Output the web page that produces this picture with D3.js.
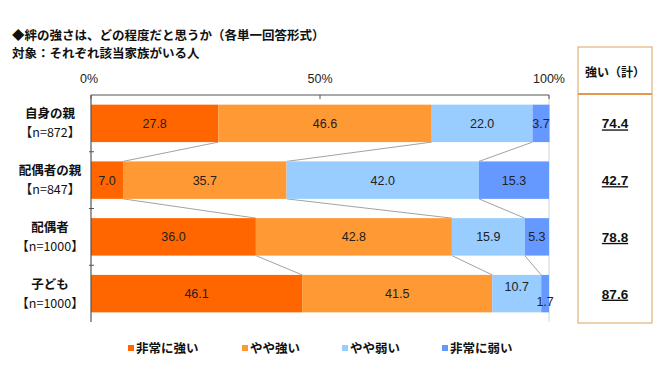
<!DOCTYPE html>
<html>
<head>
<meta charset="utf-8">
<script src="https://cdn.jsdelivr.net/npm/d3@7"></script>
<style>
  body { margin: 0; background: #fff; }
  svg { display: block; }
</style>
</head>
<body>
<svg id="chart"></svg>
<script>
// chart data
const categories = ['自身の親', '配偶者の親', '配偶者', '子ども'];
const sampleSizes = ['【n=872】', '【n=847】', '【n=1000】', '【n=1000】'];
const seriesNames = ['非常に強い', 'やや強い', 'やや弱い', '非常に弱い'];
const veryStrong = [27.8, 7.0, 36.0, 46.1];
const fairlyStrong = [46.6, 35.7, 42.8, 41.5];
const fairlyWeak = [22.0, 42.0, 15.9, 10.7];
const veryWeak = [3.7, 15.3, 5.3, 1.7];
const strongTotal = [74.4, 42.7, 78.8, 87.6];
const axisTicks = [0, 50, 100];

const colors = ['#FF6600', '#FF9933', '#99CCFF', '#6699FF'];
const jp = '"Noto Sans CJK JP", sans-serif';
const num = '"Liberation Sans", Arial, sans-serif';

const width = 669, height = 380;
const svg = d3.select('#chart').attr('width', width).attr('height', height);

const x = d3.scaleLinear().domain([0, 100]).range([91, 549]);
const y = d3.scaleBand().domain(categories).range([95, 322]).paddingInner(0.34).paddingOuter(0.17);

// title
svg.append('text').attr('x', 12).attr('y', 40)
  .attr('font-family', jp).attr('font-size', 12.5).attr('font-weight', 'bold').attr('fill', '#111')
  .text('◆絆の強さは、どの程度だと思うか（各単一回答形式）');
svg.append('text').attr('x', 12).attr('y', 58)
  .attr('font-family', jp).attr('font-size', 12.5).attr('font-weight', 'bold').attr('fill', '#111')
  .text('対象：それぞれ該当家族がいる人');

// stacked rows
const rows = categories.map((c, i) => {
  const vals = [veryStrong[i], fairlyStrong[i], fairlyWeak[i], veryWeak[i]];
  let acc = 0;
  return vals.map((v, k) => {
    const s = { cat: c, k, v, x0: acc, x1: acc + v, row: i };
    acc += v;
    return s;
  });
});

// connector lines
const conn = svg.append('g');
for (let i = 0; i < rows.length - 1; i++) {
  for (let k = 0; k < 3; k++) {
    conn.append('line')
      .attr('x1', x(rows[i][k].x1)).attr('y1', y(categories[i]) + y.bandwidth())
      .attr('x2', x(rows[i + 1][k].x1)).attr('y2', y(categories[i + 1]))
      .attr('stroke', '#8a8a8a').attr('stroke-width', 0.8);
  }
}

// 100% faint line
svg.append('line').attr('x1', x(100)).attr('x2', x(100)).attr('y1', 95).attr('y2', 322)
  .attr('stroke', '#d4d4d4').attr('stroke-width', 1);

const segs = svg.append('g').selectAll('g').data(rows).join('g');
segs.selectAll('rect').data(d => d).join('rect')
  .attr('x', d => x(d.x0))
  .attr('y', d => y(d.cat))
  .attr('width', d => x(d.x1) - x(d.x0))
  .attr('height', y.bandwidth())
  .attr('fill', d => colors[d.k]);

// value labels (small ones nudged like the original)
const nudges = { '3-2': -7, '3-3': 8 };
segs.selectAll('text').data(d => d).join('text')
  .attr('x', d => x((d.x0 + d.x1) / 2))
  .attr('y', d => y(d.cat) + y.bandwidth() / 2 + 4.5 + (nudges[d.row + '-' + d.k] || 0))
  .attr('text-anchor', 'middle')
  .attr('font-family', num).attr('font-size', 12.5).attr('fill', '#222')
  .text(d => d.v.toFixed(1));

// top axis
const topAxis = svg.append('g').attr('transform', 'translate(0,95)');
topAxis.append('line').attr('x1', x(0)).attr('x2', x(100)).attr('stroke', '#555').attr('stroke-width', 1.2);
topAxis.selectAll('line.t').data(axisTicks).join('line').attr('class', 't')
  .attr('x1', d => x(d)).attr('x2', d => x(d)).attr('y1', 0).attr('y2', 4)
  .attr('stroke', '#555');
topAxis.selectAll('text').data(axisTicks).join('text')
  .attr('x', d => x(d) + (d === 0 ? -2 : 0)).attr('y', -12)
  .attr('text-anchor', 'middle')
  .attr('font-family', num).attr('font-size', 12.5).attr('fill', '#222')
  .text(d => d + '%');

// left axis
const leftAxis = svg.append('g');
leftAxis.append('line').attr('x1', x(0)).attr('x2', x(0)).attr('y1', 95).attr('y2', 322)
  .attr('stroke', '#555').attr('stroke-width', 1.2);
const step = y.step();
leftAxis.selectAll('line.t').data(categories.slice(1)).join('line').attr('class', 't')
  .attr('x1', x(0) - 2).attr('x2', x(0) + 3)
  .attr('y1', d => y(d) - y.paddingInner() * step / 2)
  .attr('y2', d => y(d) - y.paddingInner() * step / 2)
  .attr('stroke', '#555');

// category labels
const lab = svg.append('g').selectAll('g').data(categories).join('g')
  .attr('transform', d => `translate(50,${y(d) + y.bandwidth() / 2})`);
lab.append('text').attr('y', -5).attr('text-anchor', 'middle')
  .attr('font-family', jp).attr('font-size', 12.5).attr('font-weight', 'bold').attr('fill', '#111')
  .text(d => d);
lab.append('text').attr('y', 14).attr('text-anchor', 'middle')
  .attr('font-family', jp).attr('font-size', 12.5).attr('fill', '#111')
  .text((d, i) => sampleSizes[i]);

// totals box
const box = svg.append('g');
box.append('rect').attr('x', 578).attr('y', 47).attr('width', 74).attr('height', 276)
  .attr('fill', 'none').attr('stroke', '#E3B07A').attr('stroke-width', 1.2);
box.append('line').attr('x1', 578).attr('x2', 652).attr('y1', 94).attr('y2', 94)
  .attr('stroke', '#E39A50').attr('stroke-width', 2);
box.append('text').attr('x', 615).attr('y', 77).attr('text-anchor', 'middle')
  .attr('font-family', jp).attr('font-size', 12).attr('font-weight', 'bold').attr('fill', '#111')
  .text('強い（計）');
box.selectAll('text.v').data(strongTotal).join('text').attr('class', 'v')
  .attr('x', 615)
  .attr('y', (d, i) => y(categories[i]) + y.bandwidth() / 2 + 5)
  .attr('text-anchor', 'middle')
  .attr('font-family', num).attr('font-size', 13.5).attr('font-weight', 'bold').attr('fill', '#111')
  .attr('text-decoration', 'underline')
  .text(d => d.toFixed(1));

// legend
const legendX = [131, 245, 345, 445];
const leg = svg.append('g').selectAll('g').data(seriesNames).join('g')
  .attr('transform', (d, i) => `translate(${legendX[i]},348)`);
leg.append('rect').attr('x', -3).attr('y', -3).attr('width', 6).attr('height', 6)
  .attr('fill', (d, i) => colors[i]);
leg.append('text').attr('x', 5).attr('y', 5)
  .attr('font-family', jp).attr('font-size', 12.5).attr('font-weight', 'bold').attr('fill', '#111')
  .text(d => d);
</script>
</body>
</html>
